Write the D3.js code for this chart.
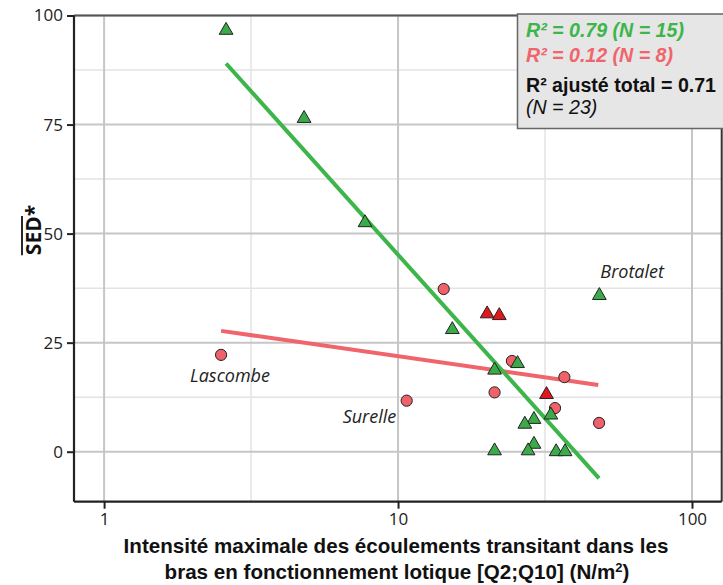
<!DOCTYPE html>
<html><head><meta charset="utf-8">
<script src="https://cdn.jsdelivr.net/npm/d3@7"></script>
<style>body{margin:0;background:#fff}svg{display:block}</style>
</head><body><svg id="c" width="723" height="585"></svg>
<script>
// ---- data ----
const greenX = [2.60, 4.79, 7.72, 15.3, 21.3, 25.5, 48.4, 33.1, 29.0, 27.0, 29.0, 27.7, 21.3, 34.5, 37.0];
const greenY = [96.6, 76.4, 52.5, 28.0, 18.7, 20.2, 35.8, 8.4, 7.4, 6.3, 1.7, 0.2, 0.2, 0.0, 0.0];
const redCircX = [2.50, 14.3, 10.7, 21.3, 24.4, 36.8, 34.2, 48.3];
const redCircY = [22.2, 37.3, 11.7, 13.6, 20.8, 17.1, 10.0, 6.6];
const redTriX = [20.1, 22.1, 32.0];
const redTriY = [31.6, 31.2, 13.1];
const greenFitX = [2.60, 48.3];
const greenFitY = [89.0, -6.1];
const redFitX = [2.50, 48.0];
const redFitY = [27.7, 15.3];
const xTicks = [1, 10, 100];
const xMinor = [Math.sqrt(10), Math.sqrt(1000)];
const yTicks = [0, 25, 50, 75, 100];
const yMinor = [12.5, 37.5, 62.5, 87.5];
const siteLabels = ["Lascombe", "Surelle", "Brotalet"];
const siteLabelX = [2.50, 10.7, 48.4];
const siteLabelY = [22.2, 11.7, 35.8];
const legendLines = ["R² = 0.79 (N = 15)", "R² = 0.12 (N = 8)", "R² ajusté total = 0.71", "(N = 23)"];
const xTitle = ["Intensité maximale des écoulements transitant dans les", "bras en fonctionnement lotique [Q2;Q10] (N/m"];
const yTitle = "SED*";

// ---- layout ----
const svg = d3.select("#c");
const L = 74, R = 721.7, T = 15.5, B = 501.7;
const x = d3.scaleLog().domain([0.79, 126.2]).range([L, R]);
const y = d3.scaleLinear().domain([-11.46, 100]).range([B, T]);

const COL_G = "#3bab49", COL_GL = "#3db54a", COL_RC = "#f0626a", COL_RL = "#f0646c", COL_RT = "#e3161e";

// minor grid
svg.append("g").selectAll("line").data(yMinor).join("line")
  .attr("x1", L).attr("x2", R).attr("y1", d => y(d)).attr("y2", d => y(d))
  .attr("stroke", "#e3e3e3").attr("stroke-width", 1.5);
svg.append("g").selectAll("line").data(xMinor).join("line")
  .attr("y1", T).attr("y2", B).attr("x1", d => x(d)).attr("x2", d => x(d))
  .attr("stroke", "#e3e3e3").attr("stroke-width", 1.5);
// major grid
svg.append("g").selectAll("line").data(yTicks).join("line")
  .attr("x1", L).attr("x2", R).attr("y1", d => y(d)).attr("y2", d => y(d))
  .attr("stroke", "#c6c6c6").attr("stroke-width", 2);
svg.append("g").selectAll("line").data(xTicks).join("line")
  .attr("y1", T).attr("y2", B).attr("x1", d => x(d)).attr("x2", d => x(d))
  .attr("stroke", "#c6c6c6").attr("stroke-width", 2);

// frame
svg.append("line").attr("x1", L).attr("x2", R).attr("y1", T).attr("y2", T).attr("stroke", "#555").attr("stroke-width", 2);
svg.append("line").attr("x1", R).attr("x2", R).attr("y1", T).attr("y2", B).attr("stroke", "#333").attr("stroke-width", 2);

// axes
const fmt = d3.format("d");
const gx = svg.append("g").attr("transform", `translate(0,${B})`)
  .call(d3.axisBottom(x).tickValues(xTicks).tickFormat(fmt).tickSize(7).tickPadding(4));
const gy = svg.append("g").attr("transform", `translate(${L},0)`)
  .call(d3.axisLeft(y).tickValues(yTicks).tickFormat(fmt).tickSize(7).tickPadding(4));
[gx, gy].forEach(g => {
  g.select(".domain").attr("stroke", "#222").attr("stroke-width", 2.2);
  g.selectAll(".tick line").attr("stroke", "#222").attr("stroke-width", 2);
  g.selectAll(".tick text").attr("font-family", "Open Sans").attr("font-size", 17).attr("fill", "#222");
});
gx.select(".domain").attr("d", `M${L},0H${R}`);
gy.select(".domain").attr("d", `M0,${T}V${B}`);

// fit lines
const line = d3.line().x(d => x(d[0])).y(d => y(d[1]));
svg.append("path").datum(d3.zip(redFitX, redFitY)).attr("d", line)
  .attr("stroke", COL_RL).attr("stroke-width", 4).attr("fill", "none");
svg.append("path").datum(d3.zip(greenFitX, greenFitY)).attr("d", line)
  .attr("stroke", COL_GL).attr("stroke-width", 4).attr("fill", "none");

// points
const tri = d3.symbol().type(d3.symbolTriangle).size(82);
svg.append("g").selectAll("circle").data(d3.zip(redCircX, redCircY)).join("circle")
  .attr("cx", d => x(d[0])).attr("cy", d => y(d[1])).attr("r", 5.6)
  .attr("fill", COL_RC).attr("stroke", "#222").attr("stroke-width", 1);
svg.append("g").selectAll("path").data(d3.zip(redTriX, redTriY)).join("path")
  .attr("d", tri).attr("transform", d => `translate(${x(d[0])},${y(d[1])})`)
  .attr("fill", COL_RT).attr("stroke", "#222").attr("stroke-width", 1);
svg.append("g").selectAll("path").data(d3.zip(greenX, greenY)).join("path")
  .attr("d", tri).attr("transform", d => `translate(${x(d[0])},${y(d[1])})`)
  .attr("fill", COL_G).attr("stroke", "#222").attr("stroke-width", 1);

// site labels (start-anchored offsets from their points)
const offs = [[-31, 27], [-64, 22], [1, -18]];
svg.append("g").selectAll("text").data(siteLabels).join("text")
  .attr("x", (d, i) => x(siteLabelX[i]) + offs[i][0]).attr("y", (d, i) => y(siteLabelY[i]) + offs[i][1])
  .attr("font-family", "Open Sans").attr("font-style", "italic").attr("font-size", 18).attr("fill", "#222")
  .text(d => d);

// legend box
svg.append("rect").attr("x", 517.5).attr("y", 14).attr("width", 210).attr("height", 114.5)
  .attr("fill", "#e6e6e6").attr("stroke", "#666").attr("stroke-width", 1.5);
const legStyle = [
  {fill: COL_GL, weight: "bold", style: "italic", y: 37},
  {fill: COL_RL, weight: "bold", style: "italic", y: 62},
  {fill: "#111", weight: "bold", style: "normal", y: 92},
  {fill: "#111", weight: "normal", style: "italic", y: 114}
];
svg.append("g").selectAll("text").data(legendLines).join("text")
  .attr("x", 526).attr("y", (d, i) => legStyle[i].y)
  .attr("font-family", "Liberation Sans").attr("font-size", 19.6)
  .attr("font-weight", (d, i) => legStyle[i].weight).attr("font-style", (d, i) => legStyle[i].style)
  .attr("fill", (d, i) => legStyle[i].fill).text(d => d);

// x title
const xt = svg.append("g").attr("font-family", "Liberation Sans").attr("font-weight", "bold")
  .attr("font-size", 20.6).attr("fill", "#111").attr("text-anchor", "middle");
xt.append("text").attr("x", 396).attr("y", 553).text(xTitle[0]);
const t2 = xt.append("text").attr("x", 397).attr("y", 579);
t2.append("tspan").text(xTitle[1]);
t2.append("tspan").attr("dy", -7).attr("font-size", 13).text("2");
t2.append("tspan").attr("dy", 7).text(")");

// y title with overline
const yt = svg.append("text").attr("transform", "translate(41,230) rotate(-90)")
  .attr("font-family", "Open Sans").attr("font-weight", "bold").attr("font-size", 21)
  .attr("fill", "#111").attr("text-anchor", "middle").text(yTitle);
const bb = yt.node().getBBox();
svg.append("line").attr("transform", "translate(41,230) rotate(-90)")
  .attr("x1", bb.x).attr("x2", bb.x + bb.width * 0.78).attr("y1", bb.y + 3).attr("y2", bb.y + 3)
  .attr("stroke", "#111").attr("stroke-width", 1.8);
</script></body></html>
